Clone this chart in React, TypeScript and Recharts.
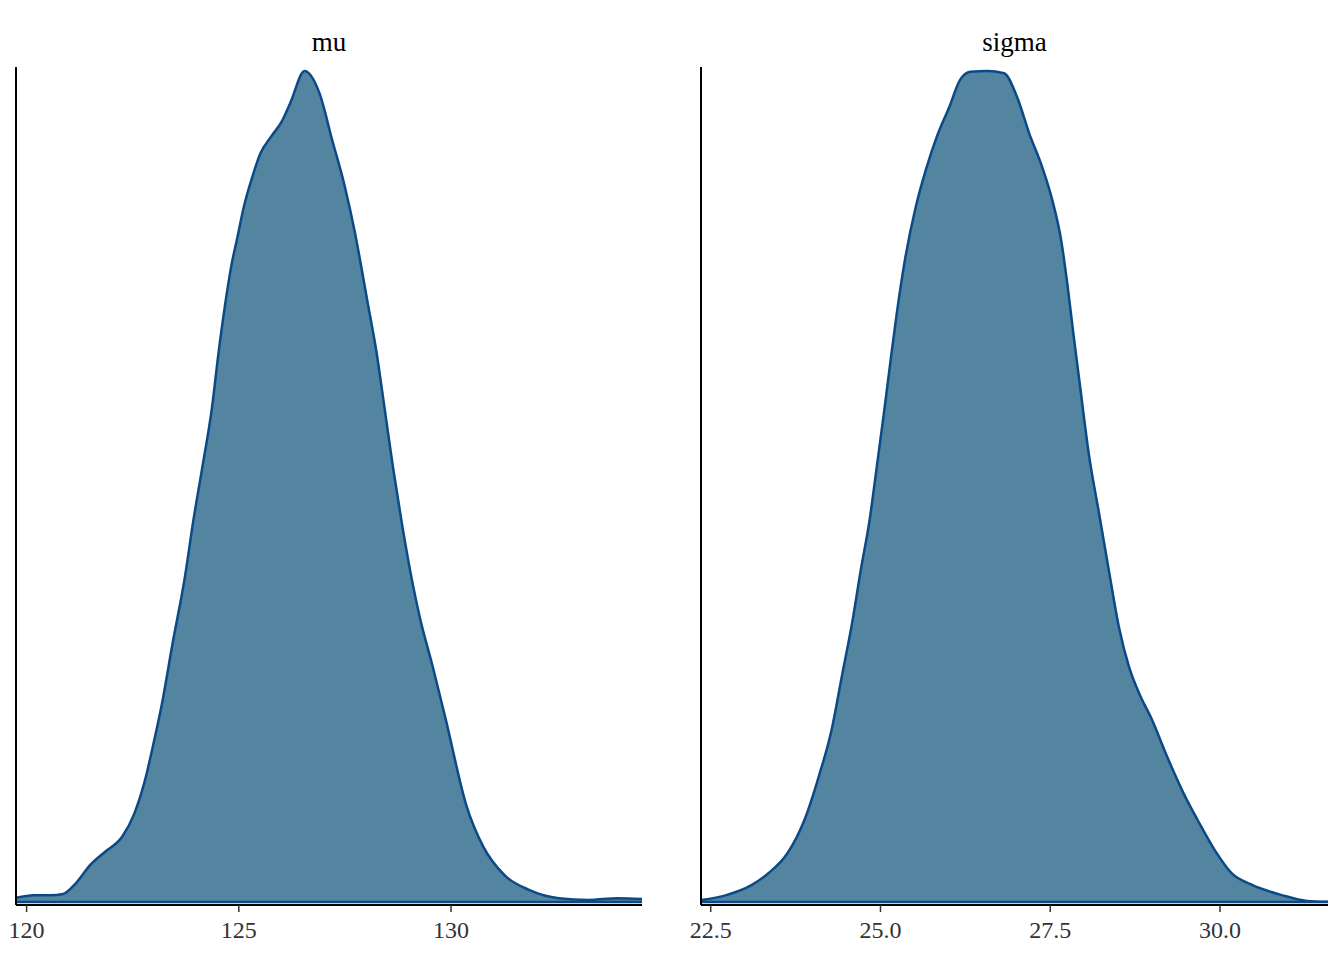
import React from 'react';
import { AreaChart, Area, XAxis, YAxis, ReferenceLine } from 'recharts';

// posterior density of mu
const muValues = [
  119.75, 120.17, 120.56, 120.86, 121.16, 121.5, 121.85, 122.25, 122.54, 122.79,
  122.99, 123.19, 123.44, 123.73, 123.93, 124.13, 124.37, 124.52, 124.67, 124.82,
  124.97, 125.12, 125.32, 125.51, 125.76, 126.01, 126.21, 126.55, 126.9, 127.2,
  127.5, 127.74, 127.94, 128.04, 128.24, 128.43, 128.63, 128.83, 129.02, 129.26,
  129.57, 129.87, 130.37, 130.76, 131.26, 131.85, 132.54, 133.24, 133.93, 134.5,
];
const muDensity = [
  0.001, 0.0016, 0.0016, 0.0019, 0.0044, 0.0087, 0.0118, 0.0153, 0.0208, 0.0286,
  0.0372, 0.0466, 0.0607, 0.0763, 0.0896, 0.1014, 0.1162, 0.1287, 0.1397, 0.1491,
  0.1561, 0.1632, 0.1702, 0.1757, 0.1796, 0.1831, 0.1874, 0.195, 0.1898, 0.1788,
  0.1678, 0.1569, 0.146, 0.1404, 0.1293, 0.1162, 0.1022, 0.0896, 0.0787, 0.067,
  0.0552, 0.0431, 0.0224, 0.013, 0.0063, 0.0028, 0.0009, 0.0005, 0.0009, 0.0007,
];

// posterior density of sigma
const sigmaValues = [
  22.36, 22.73, 23.1, 23.35, 23.63, 23.88, 24.09, 24.28, 24.43, 24.59,
  24.71, 24.84, 24.93, 25.05, 25.15, 25.24, 25.36, 25.52, 25.67, 25.83,
  26.015, 26.17, 26.325, 26.57, 26.82, 27.01, 27.19, 27.38, 27.53, 27.66,
  27.75, 27.84, 27.94, 28.07, 28.22, 28.37, 28.51, 28.66, 28.81, 29.0,
  29.2, 29.5, 29.67, 29.92, 30.17, 30.48, 30.91, 31.28, 31.59,
];
const sigmaDensity = [
  0.0007, 0.0025, 0.0061, 0.0104, 0.0176, 0.0296, 0.0452, 0.0621, 0.0813, 0.1018,
  0.1199, 0.1379, 0.1542, 0.1764, 0.1957, 0.2125, 0.2318, 0.251, 0.2645, 0.2763,
  0.2871, 0.2967, 0.2997, 0.3, 0.2992, 0.2907, 0.2775, 0.2654, 0.2534, 0.239,
  0.2234, 0.2053, 0.186, 0.1614, 0.1401, 0.1187, 0.0994, 0.0849, 0.0753, 0.0657,
  0.0537, 0.0374, 0.0296, 0.0188, 0.0104, 0.0061, 0.0025, 0.0004, 0.0001,
];

const muTicks = [120, 125, 130];
const sigmaTicks = [22.5, 25, 27.5, 30];

const FILL = '#5385a1';
const LINE = '#0b4a87';
const FONT = '"Liberation Serif", "DejaVu Serif", serif';

type PanelProps = {
  title: string;
  xs: number[];
  ys: number[];
  xDomain: [number, number];
  yDomain: [number, number];
  ticks: number[];
  digits: number;
  left: number;
  width: number;
  marginRight: number;
};

const Panel = ({ title, xs, ys, xDomain, yDomain, ticks, digits, left, width, marginRight }: PanelProps) => {
  const data = xs.map((x, i) => ({ x, density: ys[i] }));
  const plotW = width - 16 - marginRight;
  return (
    <div style={{ position: 'absolute', left, top: 0, width, height: 960 }}>
      <div
        style={{
          position: 'absolute',
          left: 16,
          width: plotW,
          top: 27,
          textAlign: 'center',
          fontFamily: FONT,
          fontSize: 27,
          lineHeight: '30px',
          color: '#000',
        }}
      >
        {title}
      </div>
      <AreaChart width={width} height={960} data={data} margin={{ top: 67, right: marginRight, bottom: 15, left: 15 }}>
        <XAxis
          type="number"
          dataKey="x"
          domain={xDomain}
          allowDataOverflow
          ticks={ticks}
          tickFormatter={(v: number) => v.toFixed(digits)}
          height={40}
          tickSize={7}
          tickMargin={9}
          tickLine={{ stroke: '#333', strokeWidth: 1.5 }}
          axisLine={{ stroke: '#000', strokeWidth: 2 }}
          tick={{ fill: '#333', fontSize: 24, fontFamily: FONT }}
        />
        <YAxis
          type="number"
          domain={yDomain}
          allowDataOverflow
          width={1}
          tick={false}
          tickLine={false}
          axisLine={{ stroke: '#000', strokeWidth: 2 }}
        />
        <Area
          type="monotone"
          dataKey="density"
          baseValue={0}
          stroke={LINE}
          strokeWidth={2.5}
          fill={FILL}
          fillOpacity={1}
          dot={false}
          activeDot={false}
          isAnimationActive={false}
        />
        <ReferenceLine y={0} stroke={LINE} strokeWidth={2.5} />
      </AreaChart>
    </div>
  );
};

export default function App() {
  return (
    <div style={{ position: 'absolute', left: 0, top: 0, width: 1344, height: 960, background: '#fff' }}>
      <Panel
        title="mu"
        xs={muValues}
        ys={muDensity}
        xDomain={[119.75, 134.5]}
        yDomain={[-0.0007, 0.19594]}
        ticks={muTicks}
        digits={0}
        left={0}
        width={660}
        marginRight={18}
      />
      <Panel
        title="sigma"
        xs={sigmaValues}
        ys={sigmaDensity}
        xDomain={[22.357, 31.59]}
        yDomain={[-0.00108, 0.30144]}
        ticks={sigmaTicks}
        digits={1}
        left={685}
        width={659}
        marginRight={16}
      />
    </div>
  );
}
